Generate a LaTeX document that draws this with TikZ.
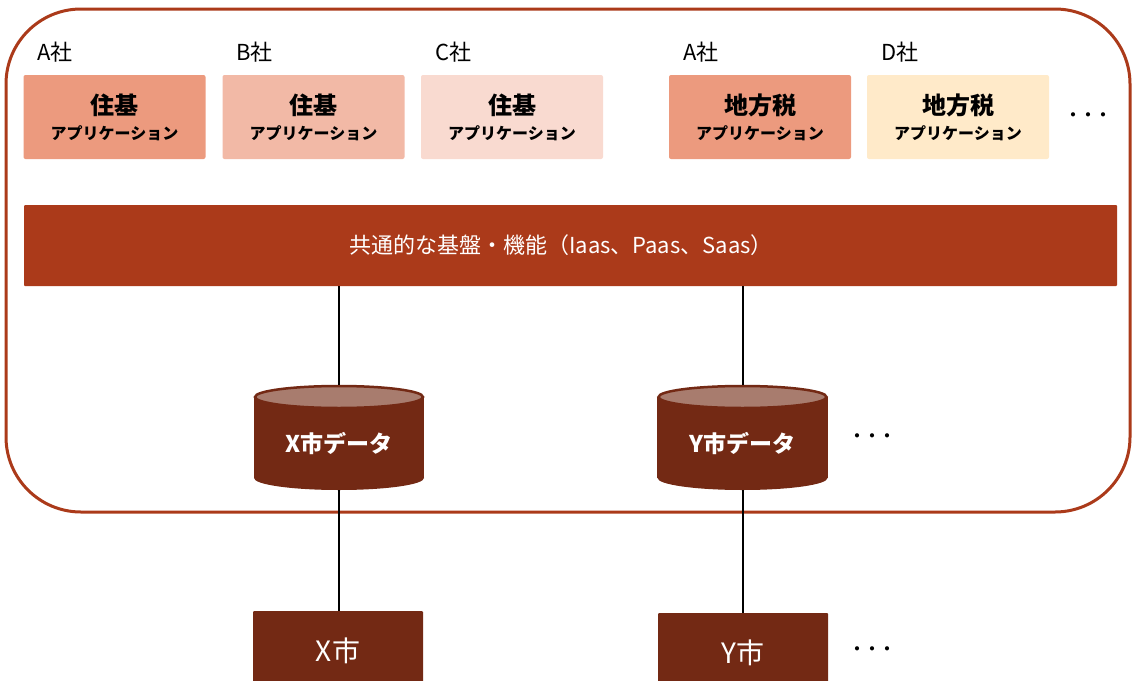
\documentclass[tikz,border=0pt]{standalone}
\usepackage{fontspec}
\setmainfont{Noto Sans CJK JP}
\usetikzlibrary{calc}
\definecolor{rust}{HTML}{AB3A1A}
\definecolor{darkrust}{HTML}{732914}
\definecolor{cyltop}{HTML}{A87C6E}
\definecolor{appA}{HTML}{EC9A7E}
\definecolor{appB}{HTML}{F2B9A6}
\definecolor{appC}{HTML}{F9DAD0}
\definecolor{appD}{HTML}{FFEAC9}
\tikzset{
  appbox/.style={rectangle, rounded corners=2pt, minimum width=182pt, minimum height=84pt, inner sep=0pt},
  apptitle/.style={font=\bfseries\fontsize{24}{24}\selectfont, inner sep=0pt},
  appsub/.style={font=\bfseries\fontsize{16}{16}\selectfont, inner sep=0pt},
  company/.style={anchor=west, font=\fontsize{22}{22}\selectfont, inner sep=0pt},
  dbnode/.style={rectangle, minimum width=170pt, minimum height=105pt, inner sep=0pt},
  dbtext/.style={text=white, font=\bfseries\fontsize{23}{23}\selectfont, inner sep=0pt},
  citybox/.style={rectangle, fill=darkrust, rounded corners=1pt, minimum width=170pt, minimum height=80pt, inner sep=0pt, text=white, font=\fontsize{28}{28}\selectfont},
  conn/.style={draw=black, line width=2pt},
  moredots/.style={font=\bfseries\fontsize{15}{15}\selectfont, inner sep=0pt}
}
\begin{document}
\begin{tikzpicture}[x=1pt,y=-1pt]
\useasboundingbox (0,0) rectangle (1132,680);
\clip (0,0) rectangle (1132,680);
% outer frame
\draw[rust, line width=3pt, rounded corners=75pt] (6,9) rectangle (1130,512);

% application boxes
\node[appbox, fill=appA] (app1) at (114.5,117) {};
\node[appbox, fill=appB] (app2) at (313.5,117) {};
\node[appbox, fill=appC] (app3) at (512,117) {};
\node[appbox, fill=appA] (app4) at (760,117) {};
\node[appbox, fill=appD] (app5) at (958,117) {};

\foreach \n/\t in {app1/住基, app2/住基, app3/住基, app4/地方税, app5/地方税}{
  \node[apptitle] at ($(\n.center)+(0,-12)$) {\t};
  \node[appsub] at ($(\n.center)+(0,16)$) {アプリケーション};
}
\node[company] (lbl1) at ($(app1.north west)+(14,-23)$) {A社};
\node[company] (lbl2) at ($(app2.north west)+(14,-23)$) {B社};
\node[company] (lbl3) at ($(app3.north west)+(14,-23)$) {C社};
\node[company] (lbl4) at ($(app4.north west)+(14,-23)$) {A社};
\node[company] (lbl5) at ($(app5.north west)+(14,-23)$) {D社};
\node[moredots] (dots1) at (1088,117) {・・・};

% common platform band
\node[rectangle, fill=rust, rounded corners=1pt, minimum width=1093pt, minimum height=81pt, inner sep=0pt] (band) at (570.5,245.5) {};
\node[text=white, font=\fontsize{22}{22}\selectfont, inner sep=0pt] (bandtxt) at (561,245) {共通的な基盤・機能（Iaas、Paas、Saas）};

% databases
\node[dbnode] (dbX) at (339,437.5) {};
\node[dbnode] (dbY) at (742.5,437.5) {};
\foreach \d in {dbX,dbY}{
  \fill[darkrust] ($(\d.center)+(0,40.5)$) ellipse [x radius=85, y radius=12];
  \fill[darkrust] ($(\d.west)+(0,-40.5)$) rectangle ($(\d.east)+(0,40.5)$);
  \draw[darkrust, line width=2.5pt, fill=cyltop] ($(\d.center)+(0,-40.5)$) ellipse [x radius=84, y radius=11];
}
\node[dbtext] at ($(dbX.center)+(0,6)$) {X市データ};
\node[dbtext] at ($(dbY.center)+(0,6)$) {Y市データ};
\node[moredots] (dots2) at (872,438) {・・・};

% cities
\node[citybox] (cityX) at (338,651) {X市};
\node[citybox] (cityY) at (743,653) {Y市};
\node[moredots] (dots3) at (872,651) {・・・};

% connectors
\draw[conn] (band.south -| dbX.north) -- (dbX.north);
\draw[conn] (band.south -| dbY.north) -- (dbY.north);
\draw[conn] (dbX.south) -- (dbX.south |- cityX.north);
\draw[conn] (dbY.south) -- (dbY.south |- cityY.north);
\end{tikzpicture}
\end{document}
